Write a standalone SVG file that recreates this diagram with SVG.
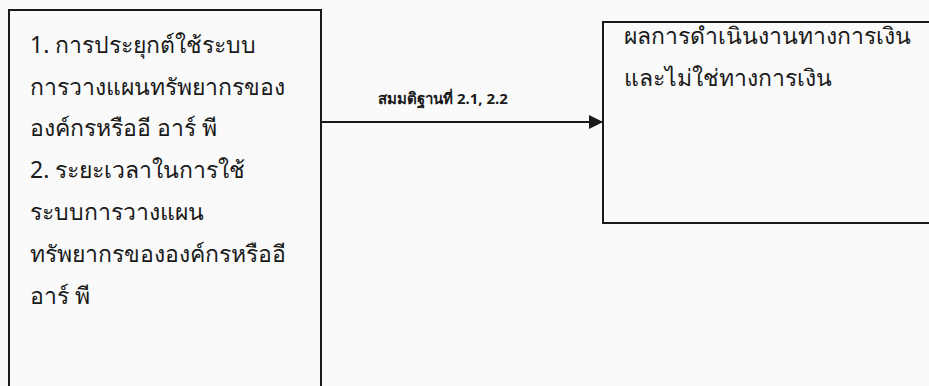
<svg xmlns="http://www.w3.org/2000/svg" width="929" height="386" viewBox="0 0 929 386">
<style>
.box{fill:none;stroke:#1a1a1a;stroke-width:2}
.t{font-family:"Noto Sans","DejaVu Sans",sans-serif;font-size:23px;fill:#1a1a1a}
.lbl{font-family:"Noto Sans","DejaVu Sans",sans-serif;font-size:15px;fill:#1a1a1a;font-weight:bold}
.edge{stroke:#1a1a1a;stroke-width:2;fill:none}
</style>
<defs>
<marker id="ah" markerWidth="14" markerHeight="14" refX="14" refY="7" orient="auto" markerUnits="userSpaceOnUse">
<path d="M0,0 L14,7 L0,14 Z" fill="#1a1a1a"/>
</marker>
</defs>
<rect width="929" height="386" fill="#fafafa"/>
<g id="node-left">
<rect class="box" x="9" y="10" width="312" height="390"/>
<text class="t" x="30" y="53">1. การประยุกต์ใช้ระบบ</text>
<text class="t" x="30" y="95">การวางแผนทรัพยากรของ</text>
<text class="t" x="30" y="136">องค์กรหรืออี อาร์ พี</text>
<text class="t" x="30" y="178">2. ระยะเวลาในการใช้</text>
<text class="t" x="30" y="220">ระบบการวางแผน</text>
<text class="t" x="30" y="262">ทรัพยากรขององค์กรหรืออี</text>
<text class="t" x="30" y="304">อาร์ พี</text>
</g>
<g id="node-right">
<path class="box" d="M935,22 L603,22 L603,223 L935,223"/>
<text class="t" x="624" y="44">ผลการดำเนินงานทางการเงิน</text>
<text class="t" x="624" y="86">และไม่ใช่ทางการเงิน</text>
</g>
<g id="connectors">
<line class="edge" x1="321" y1="122" x2="603" y2="122" marker-end="url(#ah)"/>
<text class="lbl" x="378" y="104">สมมติฐานที่ 2.1, 2.2</text>
</g>
</svg>
